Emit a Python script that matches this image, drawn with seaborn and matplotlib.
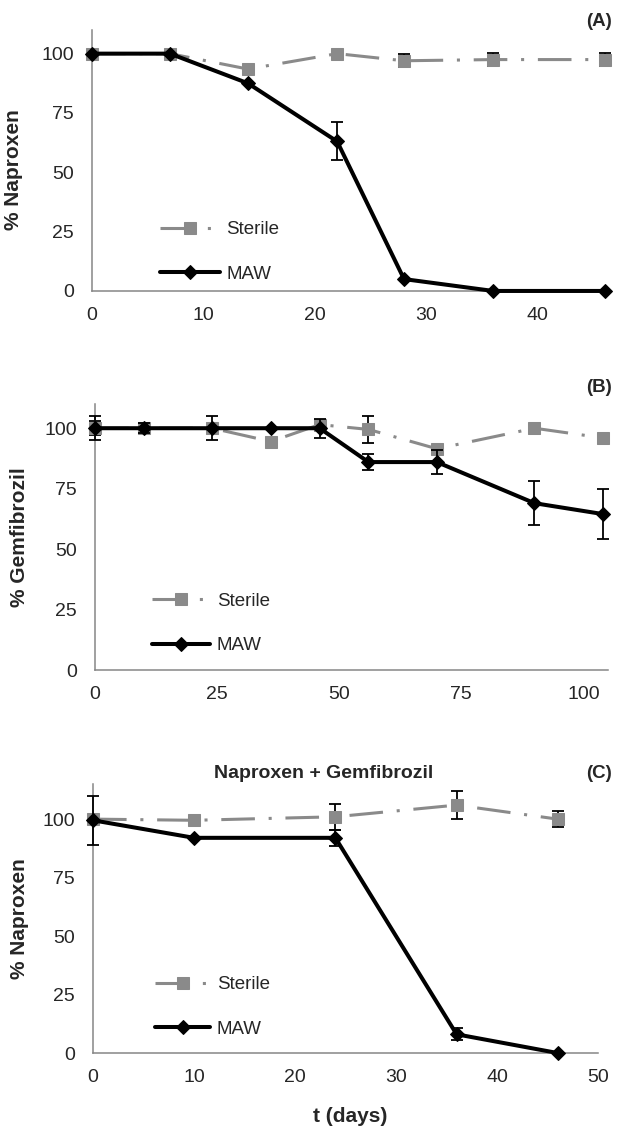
import numpy as np
import pandas as pd
import seaborn as sns
import matplotlib.pyplot as plt

# panel A - naproxen alone
a_days = [0, 7, 14, 22, 28, 36, 46]
a_sterile = [100, 100, 93.5, 100, 97, 97.5, 97.5]
a_sterile_err = [0, 0, 0, 0, 2.8, 2.8, 2.8]
a_maw = [100, 100, 87.5, 63, 5, 0, 0]
a_maw_err = [0, 0, 0, 8, 0, 0, 0]

# panel B - gemfibrozil alone
b_days = [0, 10, 24, 36, 46, 56, 70, 90, 104]
b_sterile = [100, 100, 100, 94.5, 101.5, 99.5, 91.5, 100, 96]
b_sterile_err = [3, 1, 0, 0, 0, 5.5, 0, 0, 0]
b_maw = [100, 100, 100, 100, 100, 86, 86, 69, 64.5]
b_maw_err = [5, 2, 5, 0, 4, 3.3, 4.8, 9, 10.5]

# panel C - naproxen in the mixture
c_days = [0, 10, 24, 36, 46]
c_sterile = [100, 99.5, 101, 106, 100]
c_sterile_err = [0, 0, 5.5, 6, 3.5]
c_maw = [99.5, 92, 92, 8, 0]
c_maw_err = [10.5, 0, 3.5, 2.5, 0]

y_ticks = [0, 25, 50, 75, 100]

sns.set_style("white")
plt.rcParams['font.family'] = ['Liberation Sans', 'DejaVu Sans']

GREY = '#8a8a8a'
SPINE = '#868686'
TXT = '#262626'
sterile_dash = (0, (11, 4.5, 1, 4.5))

fig = plt.figure(figsize=(6.17, 11.33), dpi=100)
ax_a = fig.add_axes([0.149, 0.7432, 0.831, 0.2304])
ax_b = fig.add_axes([0.154, 0.4086, 0.831, 0.2348])
ax_c = fig.add_axes([0.1507, 0.0706, 0.8185, 0.2374])


def draw_panel(ax, days, ster, ster_err, maw, maw_err):
    df = pd.DataFrame({'day': days, 'Sterile': ster, 'MAW': maw})
    sns.lineplot(data=df, x='day', y='Sterile', ax=ax, color=GREY, linewidth=2.2,
                 linestyle=sterile_dash, marker='s', markersize=9,
                 markeredgecolor=GREY, markerfacecolor=GREY, label='Sterile',
                 clip_on=False, zorder=3)
    sns.lineplot(data=df, x='day', y='MAW', ax=ax, color='black', linewidth=2.9,
                 marker='D', markersize=7, markeredgecolor='black',
                 label='MAW', clip_on=False, zorder=4)
    # error bars, only where a value was read
    for y, e, z in [(ster, ster_err, 2.5), (maw, maw_err, 5)]:
        d = np.array(days, dtype=float)
        y = np.array(y, dtype=float)
        e = np.array(e, dtype=float)
        m = e > 0
        ax.errorbar(d[m], y[m], yerr=e[m], fmt='none', ecolor='black',
                    elinewidth=1.3, capsize=4, capthick=1.3, clip_on=False, zorder=z)


def style_axes(ax, xmax, xticks, ymax, legend_xy, hlen):
    ax.set_xlim(0, xmax)
    ax.set_ylim(0, ymax)
    ax.set_xticks(xticks)
    ax.set_yticks(y_ticks)
    ax.set_xlabel('')
    ax.tick_params(axis='both', length=0, labelsize=14, colors=TXT)
    ax.tick_params(axis='y', pad=13)
    ax.tick_params(axis='x', pad=11.5)
    for s in ['top', 'right']:
        ax.spines[s].set_visible(False)
    for s in ['left', 'bottom']:
        ax.spines[s].set_color(SPINE)
        ax.spines[s].set_linewidth(1.1)
    ax.grid(False)
    ax.legend(loc='center left', bbox_to_anchor=legend_xy, frameon=False,
              fontsize=13.5, handlelength=hlen, handletextpad=0.35,
              labelspacing=1.45, borderpad=0, borderaxespad=0, numpoints=1,
              labelcolor=TXT)


draw_panel(ax_a, a_days, a_sterile, a_sterile_err, a_maw, a_maw_err)
style_axes(ax_a, 46, [0, 10, 20, 30, 40], 110, (0.1326, 0.149), 3.2)
ax_a.set_ylabel('% Naproxen', fontsize=15, fontweight='bold', color=TXT)
ax_a.yaxis.set_label_coords(-0.134, 0.464)

draw_panel(ax_b, b_days, b_sterile, b_sterile_err, b_maw, b_maw_err)
style_axes(ax_b, 105, [0, 25, 50, 75, 100], 110, (0.111, 0.175), 3.1)
ax_b.set_ylabel('% Gemfibrozil', fontsize=15, fontweight='bold', color=TXT)
ax_b.yaxis.set_label_coords(-0.129, 0.5)

draw_panel(ax_c, c_days, c_sterile, c_sterile_err, c_maw, c_maw_err)
style_axes(ax_c, 50, [0, 10, 20, 30, 40, 50], 115, (0.123, 0.171), 2.95)
ax_c.set_ylabel('% Naproxen', fontsize=15, fontweight='bold', color=TXT)
ax_c.yaxis.set_label_coords(-0.127, 0.5)

fig.text(612 / 617, 1 - 22 / 1133, '(A)', ha='right', va='center',
         fontsize=13.5, fontweight='bold', color=TXT)
fig.text(612 / 617, 1 - 387 / 1133, '(B)', ha='right', va='center',
         fontsize=13.5, fontweight='bold', color=TXT)
fig.text(612 / 617, 1 - 773 / 1133, '(C)', ha='right', va='center',
         fontsize=13.5, fontweight='bold', color=TXT)
fig.text(324 / 617, 1 - 773 / 1133, 'Naproxen + Gemfibrozil', ha='center',
         va='center', fontsize=14, fontweight='bold', color=TXT)
fig.text(350 / 617, 1 - 1117 / 1133, 't (days)', ha='center', va='center',
         fontsize=15, fontweight='bold', color=TXT)

fig.savefig('out.png', dpi=100)
